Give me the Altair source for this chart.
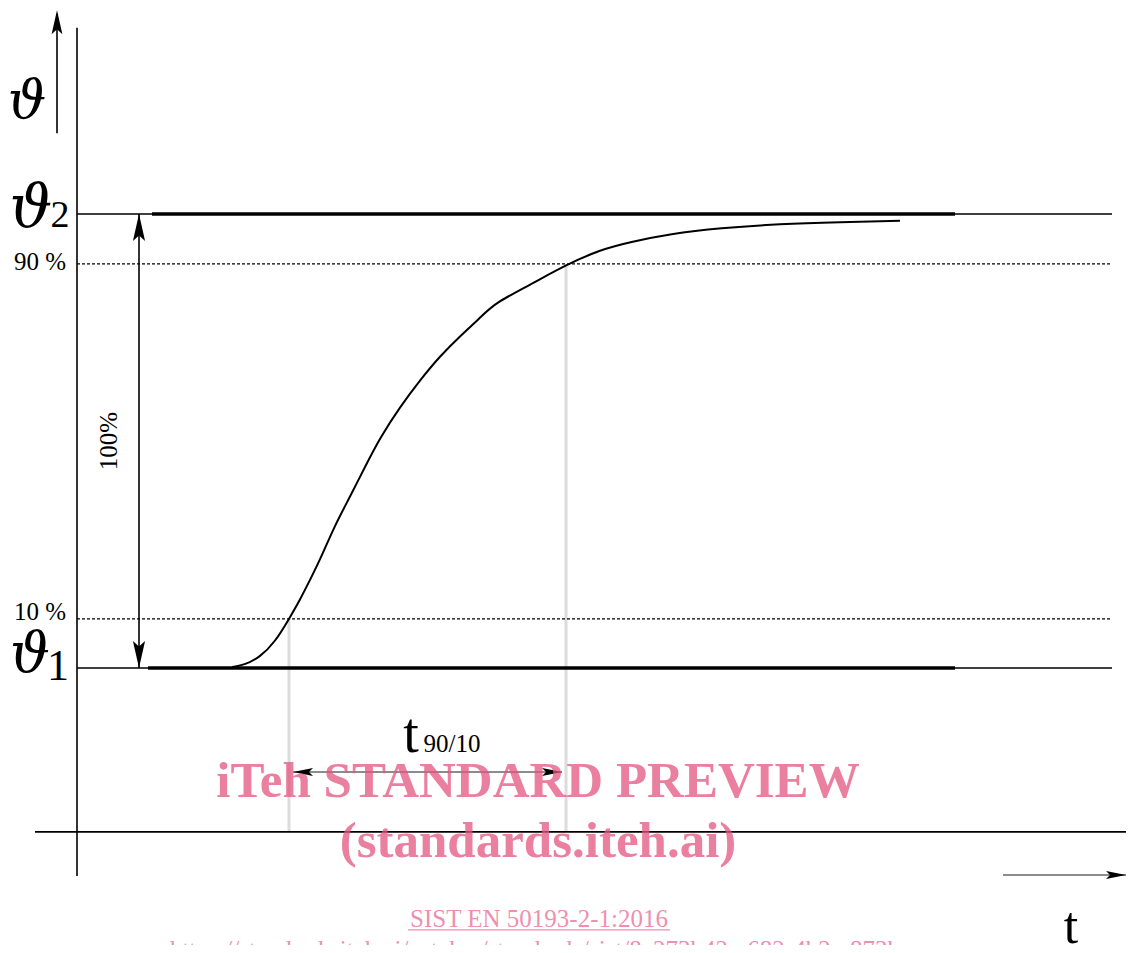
import altair as alt
import pandas as pd

# ---- data (time units t, temperature in % of step between theta1 and theta2) ----
curve_t = [15.5, 16.8, 18.3, 19.8, 21.2, 22.3, 23.3, 24.3, 25.8, 27.3, 28.8, 30.3, 32.3, 34.3,
           36.3, 38.3, 40.3, 41.8, 45.3, 48.9, 52.3, 55.3, 59.3, 64.3, 70.3, 76.3, 82.3]
curve_v = [0.2, 0.7, 2.4, 5.7, 10.8, 15.0, 19.4, 23.8, 31.5, 37.7, 44.3, 50.7, 57.5, 63.4,
           68.7, 73.1, 77.1, 80.4, 84.4, 88.8, 92.1, 93.8, 95.6, 96.9, 97.8, 98.2, 98.5]

lvl_theta1 = 0.0
lvl_theta2 = 100.0
lvl_10 = 10.8
lvl_90 = 89.0
t10 = 21.2
t90 = 48.9
axis_v = -36.1
t_end = 103.5

# thin black segments: x, y, x2, y2
thin_x = [0.0, -4.2, 0.0, 0.0, -2.0, 6.2]
thin_y = [141.0, axis_v, lvl_theta2, lvl_theta1, 117.8, lvl_theta1]
thin_x2 = [0.0, 104.9, t_end, t_end, -2.0, 6.2]
thin_y2 = [-45.8, axis_v, lvl_theta2, lvl_theta1, 144.1, lvl_theta2]

thick_x = [7.5, 7.1]
thick_x2 = [87.8, 87.8]
thick_y = [lvl_theta2, lvl_theta1]

dot_y = [lvl_90, lvl_10]

guide_t = [t10, t90]
guide_top = [lvl_10, lvl_90]

gray_x = [21.6, 92.6]
gray_x2 = [48.5, 104.9]
gray_y = [-22.9, -45.6]

UP = "M0,0 L0.45,2 L0,1.6 L-0.45,2 Z"
DOWN = "M0,0 L0.45,-2 L0,-1.6 L-0.45,-2 Z"
LEFT = "M0,0 L2,0.4 L1.6,0 L2,-0.4 Z"
RIGHT = "M0,0 L-2,0.4 L-1.6,0 L-2,-0.4 Z"
head_x = [-2.0, 6.2, 6.2, 21.6, 48.5, 104.9]
head_y = [144.9, lvl_theta2, lvl_theta1, -22.9, -22.9, -45.6]
head_shape = [UP, UP, DOWN, LEFT, RIGHT, RIGHT]
head_len = [24, 27, 27, 20, 20, 20]  # arrowhead length in px

theta_text = ["ϑ", "ϑ", "ϑ"]
theta_t = [-5.0, -4.6, -4.7]
theta_v = [121.1, 97.1, -0.9]
theta_size = [54, 60, 56]

lab_text = ["2", "1", "90 %", "10 %", "100%", "t", "90/10", "t"]
lab_t = [-1.7, -1.9, -3.7, -3.7, 4.0, 33.4, 37.5, 99.4]
lab_v = [97.1, -2.6, 87.7, 10.6, 50.0, -18.5, -18.5, -60.6]
lab_size = [38, 44, 25, 25, 25, 56, 25, 52]
lab_angle = [0, 0, 0, 0, 270, 0, 0, 0]

wm_text = ["iTeh STANDARD PREVIEW", "(standards.iteh.ai)"]
wm_t = [46.1, 46.1]
wm_v = [-28.4, -41.6]

foot_text = ["SIST EN 50193-2-1:2016",
             "https://standards.iteh.ai/catalog/standards/sist/8c273b42-e682-4b2e-873b-"]
foot_t = [46.2, 46.2]
foot_v = [-57.0, -63.9]
underline_x = [33.1]
underline_x2 = [59.3]
underline_y = [-57.7]

# ---- scales ----
xs = alt.Scale(domain=[-6.9, 104.9], nice=False, zero=False)
ys = alt.Scale(domain=[-61.01, 145.37], nice=False, zero=False)


def X(f="x"):
    return alt.X(f"{f}:Q", scale=xs, axis=None)


def Y(f="y"):
    return alt.Y(f"{f}:Q", scale=ys, axis=None)


SERIF = "Liberation Serif"

thin = alt.Chart(pd.DataFrame({"x": thin_x, "y": thin_y, "x2": thin_x2, "y2": thin_y2})).mark_rule(
    color="black", strokeWidth=1.6).encode(x=X(), y=Y(), x2="x2:Q", y2="y2:Q")

thick = alt.Chart(pd.DataFrame({"x": thick_x, "x2": thick_x2, "y": thick_y})).mark_rule(
    color="black", strokeWidth=3.5).encode(x=X(), x2="x2:Q", y=Y())

dotted = alt.Chart(pd.DataFrame({"y": dot_y, "x": [0.0, 0.0], "x2": [t_end, t_end]})).mark_rule(
    color="black", strokeWidth=1.3, strokeDash=[3, 2]).encode(x=X(), x2="x2:Q", y=Y())

guides = alt.Chart(pd.DataFrame({"x": guide_t, "y": guide_top, "y2": [axis_v, axis_v]})).mark_rule(
    color="#dcdcdc", strokeWidth=3).encode(x=X(), y=Y(), y2="y2:Q")

gray = alt.Chart(pd.DataFrame({"x": gray_x, "x2": gray_x2, "y": gray_y})).mark_rule(
    color="#666666", strokeWidth=1.6).encode(x=X(), x2="x2:Q", y=Y())

curve = alt.Chart(pd.DataFrame({"x": curve_t, "y": curve_v})).mark_line(
    color="black", strokeWidth=2, interpolate="basis").encode(x=X(), y=Y())

heads = alt.Chart(pd.DataFrame({"x": head_x, "y": head_y, "shape": head_shape,
                                "size": [L * L for L in head_len]})).mark_point(
    filled=True, color="black", opacity=1, strokeWidth=0).encode(
    x=X(), y=Y(),
    shape=alt.Shape("shape:N", scale=None, legend=None),
    size=alt.Size("size:Q", scale=None, legend=None))

thetas = alt.Chart(pd.DataFrame({"x": theta_t, "y": theta_v, "text": theta_text,
                                 "size": theta_size})).mark_text(
    font="DejaVu Serif", fontStyle="italic", color="black", align="center",
    baseline="alphabetic").encode(
    x=X(), y=Y(), text="text:N", size=alt.Size("size:Q", scale=None, legend=None))

labels = alt.Chart(pd.DataFrame({"x": lab_t, "y": lab_v, "text": lab_text, "size": lab_size,
                                 "angle": lab_angle})).mark_text(
    font=SERIF, color="black", align="center", baseline="alphabetic").encode(
    x=X(), y=Y(), text="text:N",
    size=alt.Size("size:Q", scale=None, legend=None),
    angle=alt.Angle("angle:Q", scale=None))

wm = alt.Chart(pd.DataFrame({"x": wm_t, "y": wm_v, "text": wm_text})).mark_text(
    font=SERIF, fontWeight="bold", fontSize=51, color="#e5557f", opacity=0.75,
    align="center", baseline="alphabetic").encode(x=X(), y=Y(), text="text:N")

foot = alt.Chart(pd.DataFrame({"x": foot_t, "y": foot_v, "text": foot_text})).mark_text(
    font=SERIF, fontSize=25, color="#ef8fae", align="center", baseline="alphabetic").encode(
    x=X(), y=Y(), text="text:N")

underline = alt.Chart(pd.DataFrame({"x": underline_x, "x2": underline_x2, "y": underline_y})).mark_rule(
    color="#ef8fae", strokeWidth=1.3).encode(x=X(), x2="x2:Q", y=Y())

chart = alt.layer(guides, thin, thick, dotted, gray, curve, heads, thetas, labels, wm, foot,
                  underline).properties(
    width=1118, height=937,
    autosize=alt.AutoSizeParams(type="none"),
    padding={"left": 0, "top": 0, "right": 0, "bottom": 0},
    background="white",
).configure_view(stroke=None)

chart.save("out.html", embed_options={"renderer": "svg", "actions": False})
